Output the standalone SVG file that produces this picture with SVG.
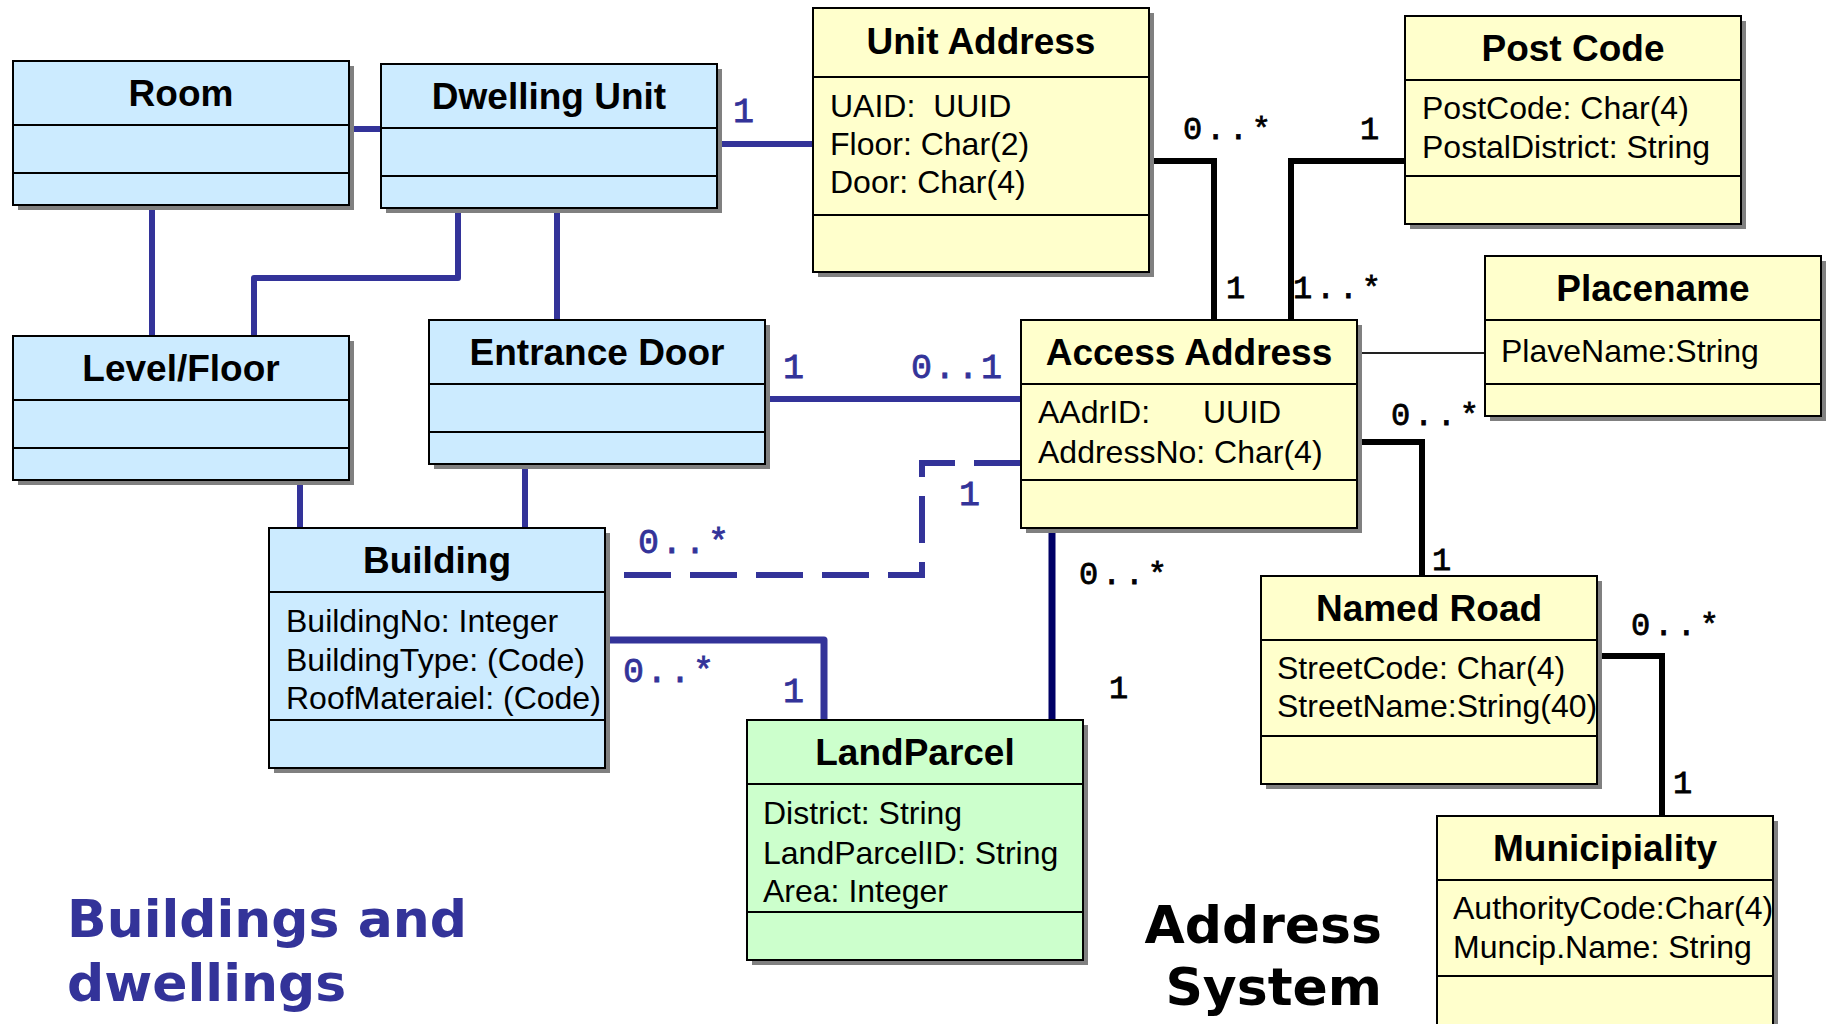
<svg xmlns="http://www.w3.org/2000/svg" width="1832" height="1024" viewBox="0 0 1832 1024">
<style>
.bg{fill:#ffffff}
.sh{fill:#808080}
.fr{stroke:#000;stroke-width:2}
.blue .fr{fill:#CCEBFF}
.yel .fr{fill:#FFFFCC}
.grn .fr{fill:#CCFFCC}
.dv{stroke:#000;stroke-width:2}
.t{font-family:"Liberation Sans",Arial,sans-serif;font-weight:bold;font-size:37px;text-anchor:middle;fill:#000}
.a{font-family:"Liberation Sans",Arial,sans-serif;font-size:32px;fill:#000;white-space:pre}
.cb{fill:none;stroke:#333399;stroke-width:6;stroke-linejoin:round}
.ck{fill:none;stroke:#000;stroke-width:6;stroke-linejoin:miter}
.cn{fill:none;stroke:#000066;stroke-width:7}
.thin{fill:none;stroke:#222;stroke-width:2}
.dash{stroke-dasharray:47 19}
.mb{font-family:"Liberation Mono","DejaVu Sans Mono",monospace;font-size:35px;letter-spacing:2.3px;fill:#333399;stroke:#333399;stroke-width:0.8}
.mk{font-family:"Liberation Mono","DejaVu Sans Mono",monospace;font-size:32px;letter-spacing:3.7px;fill:#000;stroke:#000;stroke-width:0.8}
.big{font-family:"DejaVu Sans",Verdana,sans-serif;font-weight:bold;font-size:52px}
</style>
<rect class="bg" x="0" y="0" width="1832" height="1024"/>

<g id="connectors">
  <path class="cb" d="M350,129 H381"/>
  <path class="cb" d="M152,205 V336"/>
  <path class="cb" d="M458,208 V278 H254 V336"/>
  <path class="cb" d="M557,208 V320"/>
  <path class="cb" d="M717,144 H813"/>
  <path class="cb" d="M300,480 V528"/>
  <path class="cb" d="M525,464 V528"/>
  <path class="cb" d="M765,399 H1021"/>
  <path class="cb" style="stroke-width:7" d="M605,640 H824 V720"/>
  <path class="cb dash" style="stroke-linejoin:miter" d="M1021,463 H922 V575 H624"/>
  <path class="ck" d="M1149,161 H1214 V320"/>
  <path class="ck" d="M1405,161 H1291 V320"/>
  <path class="thin" d="M1357,353 H1485"/>
  <path class="ck" d="M1357,442 H1422 V576"/>
  <path class="ck" d="M1597,656 H1662 V816"/>
  <path class="cn" d="M1052,523 V720"/>

  <text class="mb" x="733" y="122">1</text>
  <text class="mb" x="783" y="378">1</text>
  <text class="mb" x="911" y="378">0..1</text>
  <text class="mb" x="638" y="553">0..*</text>
  <text class="mb" x="959" y="505">1</text>
  <text class="mb" x="623" y="682">0..*</text>
  <text class="mb" x="783" y="702">1</text>

  <text class="mk" x="1183" y="139">0..*</text>
  <text class="mk" x="1360" y="139">1</text>
  <text class="mk" x="1226" y="298">1</text>
  <text class="mk" x="1293" y="298">1..*</text>
  <text class="mk" x="1391" y="425">0..*</text>
  <text class="mk" x="1432" y="570">1</text>
  <text class="mk" x="1079" y="584">0..*</text>
  <text class="mk" x="1109" y="698">1</text>
  <text class="mk" x="1631" y="635">0..*</text>
  <text class="mk" x="1673" y="793">1</text>
</g>

<g id="room" class="blue">
  <rect class="sh" x="18" y="66" width="336" height="144"/>
  <rect class="fr" x="13" y="61" width="336" height="144"/>
  <line class="dv" x1="13" y1="125" x2="349" y2="125"/>
  <line class="dv" x1="13" y1="173" x2="349" y2="173"/>
  <text class="t" x="181" y="106">Room</text>
</g>

<g id="dwelling-unit" class="blue">
  <rect class="sh" x="386" y="69" width="336" height="144"/>
  <rect class="fr" x="381" y="64" width="336" height="144"/>
  <line class="dv" x1="381" y1="128" x2="717" y2="128"/>
  <line class="dv" x1="381" y1="176" x2="717" y2="176"/>
  <text class="t" x="549" y="109">Dwelling Unit</text>
</g>

<g id="level-floor" class="blue">
  <rect class="sh" x="18" y="341" width="336" height="144"/>
  <rect class="fr" x="13" y="336" width="336" height="144"/>
  <line class="dv" x1="13" y1="400" x2="349" y2="400"/>
  <line class="dv" x1="13" y1="448" x2="349" y2="448"/>
  <text class="t" x="181" y="381">Level/Floor</text>
</g>

<g id="entrance-door" class="blue">
  <rect class="sh" x="434" y="325" width="336" height="144"/>
  <rect class="fr" x="429" y="320" width="336" height="144"/>
  <line class="dv" x1="429" y1="384" x2="765" y2="384"/>
  <line class="dv" x1="429" y1="432" x2="765" y2="432"/>
  <text class="t" x="597" y="365">Entrance Door</text>
</g>

<g id="building" class="blue">
  <rect class="sh" x="274" y="533" width="336" height="240"/>
  <rect class="fr" x="269" y="528" width="336" height="240"/>
  <line class="dv" x1="269" y1="592" x2="605" y2="592"/>
  <line class="dv" x1="269" y1="720" x2="605" y2="720"/>
  <text class="t" x="437" y="573">Building</text>
  <text class="a" x="286" y="632">BuildingNo: Integer</text>
  <text class="a" x="286" y="671">BuildingType: (Code)</text>
  <text class="a" x="286" y="709">RoofMateraiel: (Code)</text>
</g>

<g id="land-parcel" class="grn">
  <rect class="sh" x="752" y="725" width="336" height="240"/>
  <rect class="fr" x="747" y="720" width="336" height="240"/>
  <line class="dv" x1="747" y1="784" x2="1083" y2="784"/>
  <line class="dv" x1="747" y1="912" x2="1083" y2="912"/>
  <text class="t" x="915" y="765">LandParcel</text>
  <text class="a" x="763" y="824">District: String</text>
  <text class="a" x="763" y="864">LandParcelID: String</text>
  <text class="a" x="763" y="902">Area: Integer</text>
</g>

<g id="unit-address" class="yel">
  <rect class="sh" x="818" y="13" width="336" height="264"/>
  <rect class="fr" x="813" y="8" width="336" height="264"/>
  <line class="dv" x1="813" y1="77" x2="1149" y2="77"/>
  <line class="dv" x1="813" y1="215" x2="1149" y2="215"/>
  <text class="t" x="981" y="54">Unit Address</text>
  <text class="a" x="830" y="117">UAID:  UUID</text>
  <text class="a" x="830" y="155">Floor: Char(2)</text>
  <text class="a" x="830" y="193">Door: Char(4)</text>
</g>

<g id="post-code" class="yel">
  <rect class="sh" x="1410" y="21" width="336" height="208"/>
  <rect class="fr" x="1405" y="16" width="336" height="208"/>
  <line class="dv" x1="1405" y1="80" x2="1741" y2="80"/>
  <line class="dv" x1="1405" y1="176" x2="1741" y2="176"/>
  <text class="t" x="1573" y="61">Post Code</text>
  <text class="a" x="1422" y="119">PostCode: Char(4)</text>
  <text class="a" x="1422" y="158">PostalDistrict: String</text>
</g>

<g id="placename" class="yel">
  <rect class="sh" x="1490" y="261" width="336" height="160"/>
  <rect class="fr" x="1485" y="256" width="336" height="160"/>
  <line class="dv" x1="1485" y1="320" x2="1821" y2="320"/>
  <line class="dv" x1="1485" y1="384" x2="1821" y2="384"/>
  <text class="t" x="1653" y="301">Placename</text>
  <text class="a" x="1501" y="362">PlaveName:String</text>
</g>

<g id="access-address" class="yel">
  <rect class="sh" x="1026" y="325" width="336" height="208"/>
  <rect class="fr" x="1021" y="320" width="336" height="208"/>
  <line class="dv" x1="1021" y1="384" x2="1357" y2="384"/>
  <line class="dv" x1="1021" y1="480" x2="1357" y2="480"/>
  <text class="t" x="1189" y="365">Access Address</text>
  <text class="a" x="1038" y="423">AAdrID:<tspan x="1203">UUID</tspan></text>
  <text class="a" x="1038" y="463">AddressNo: Char(4)</text>
</g>

<g id="named-road" class="yel">
  <rect class="sh" x="1266" y="581" width="336" height="208"/>
  <rect class="fr" x="1261" y="576" width="336" height="208"/>
  <line class="dv" x1="1261" y1="640" x2="1597" y2="640"/>
  <line class="dv" x1="1261" y1="736" x2="1597" y2="736"/>
  <text class="t" x="1429" y="621">Named Road</text>
  <text class="a" x="1277" y="679">StreetCode: Char(4)</text>
  <text class="a" x="1277" y="717">StreetName:String(40)</text>
</g>

<g id="municipiality" class="yel">
  <rect class="sh" x="1442" y="821" width="336" height="212"/>
  <rect class="fr" x="1437" y="816" width="336" height="212"/>
  <line class="dv" x1="1437" y1="880" x2="1773" y2="880"/>
  <line class="dv" x1="1437" y1="976" x2="1773" y2="976"/>
  <text class="t" x="1605" y="861">Municipiality</text>
  <text class="a" x="1453" y="919">AuthorityCode:Char(4)</text>
  <text class="a" x="1453" y="958">Muncip.Name: String</text>
</g>

<g id="labels">
  <text class="big" x="67" y="937" fill="#333399">Buildings and</text>
  <text class="big" x="67" y="1001" fill="#333399">dwellings</text>
  <text class="big" x="1382" y="943" fill="#000" text-anchor="end">Address</text>
  <text class="big" x="1382" y="1005" fill="#000" text-anchor="end">System</text>
</g>
</svg>
